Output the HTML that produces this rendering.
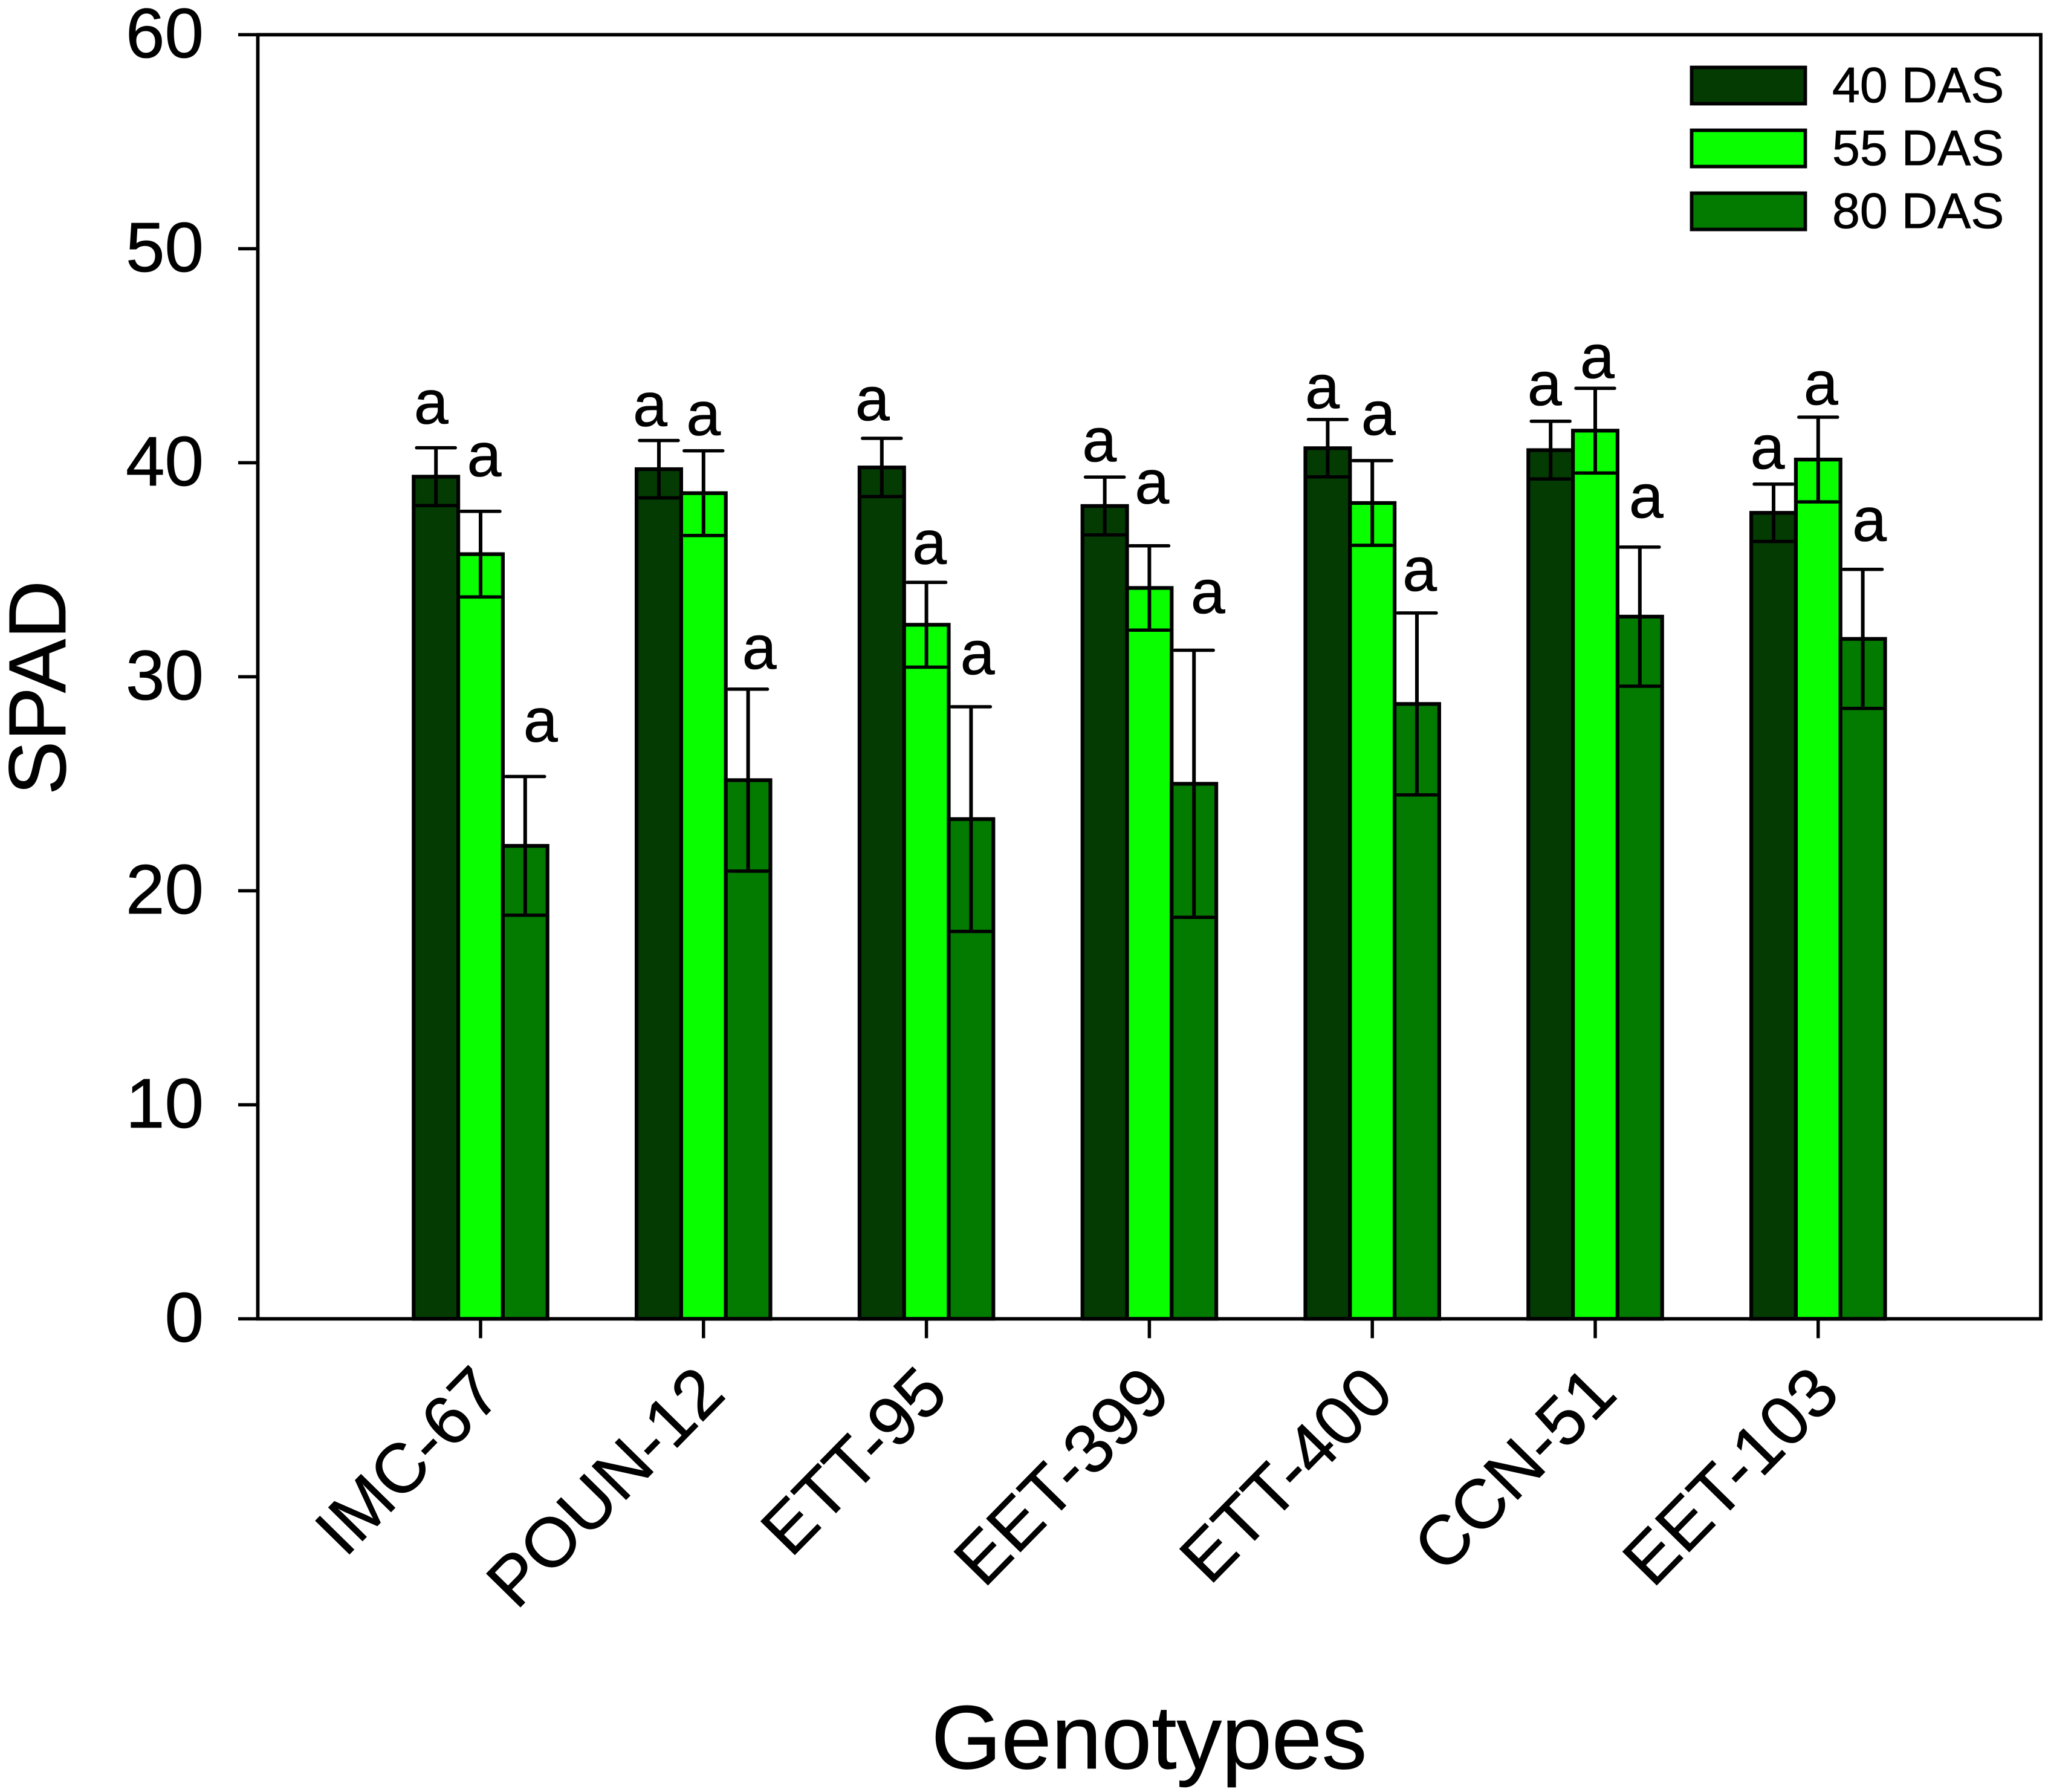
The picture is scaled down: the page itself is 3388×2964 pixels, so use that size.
<!DOCTYPE html>
<html lang="en">
<head>
<meta charset="utf-8">
<title>SPAD by genotype</title>
<style>
html,body{margin:0;padding:0;background:#fff;}
svg{display:block;}
text{font-family:"Liberation Sans",Arial,sans-serif;fill:#000;stroke:#000;stroke-width:0.8px;}
</style>
</head>
<body>
<svg id="chart" xmlns="http://www.w3.org/2000/svg" width="3388" height="2964" viewBox="0 0 3388 2964">
  <rect x="0" y="0" width="3388" height="2964" fill="#fff"/>
  <g id="bars"></g>
  <g id="errors"></g>
  <g id="letters"></g>
  <g id="axes"></g>
  <g id="legend"></g>
  <text font-size="134" text-anchor="middle" transform="translate(108,1137.5) rotate(-90)">SPAD</text>
  <text font-size="149" text-anchor="middle" x="1901" y="2925">Genotypes</text>
</svg>
<script>
const categories = ['IMC-67', 'POUN-12', 'ETT-95', 'EET-399', 'ETT-400', 'CCN-51', 'EET-103'];
const seriesNames = ['40 DAS', '55 DAS', '80 DAS'];
const values40 = [39.35, 39.7, 39.78, 37.98, 40.68, 40.59, 37.66];
const values55 = [35.73, 38.58, 32.43, 34.15, 38.12, 41.5, 40.15];
const values80 = [22.1, 25.17, 23.35, 25.0, 28.73, 32.81, 31.77];
const errors40 = [1.35, 1.34, 1.36, 1.35, 1.34, 1.35, 1.34];
const errors55 = [2.0, 1.98, 1.98, 1.97, 1.98, 1.98, 1.98];
const errors80 = [3.24, 4.25, 5.25, 6.24, 4.25, 3.25, 3.25];
const letters40 = ['a', 'a', 'a', 'a', 'a', 'a', 'a'];
const letters55 = ['a', 'a', 'a', 'a', 'a', 'a', 'a'];
const letters80 = ['a', 'a', 'a', 'a', 'a', 'a', 'a'];
const yTickValues = [0, 10, 20, 30, 40, 50, 60];

const NS = 'http://www.w3.org/2000/svg';
const seriesValues = [values40, values55, values80];
const seriesErrors = [errors40, errors55, errors80];
const seriesLetters = [letters40, letters55, letters80];
const seriesFills = ['#033b02', '#09ff00', '#037a00'];

const plotLeft = 426.5, plotRight = 3376, plotTop = 57.4, plotBottom = 2181.4;
const yMax = 60;

function yScale(v) { return plotBottom - (v / yMax) * (plotBottom - plotTop); }
function xCenter(i) { return 795 + i * 368.8; }
const barWidth = 73.8;
function barCenter(i, s) { return xCenter(i) + (s - 1) * barWidth; }

function make(tag, attrs, parent, content) {
  const n = document.createElementNS(NS, tag);
  for (const k in attrs) n.setAttribute(k, attrs[k]);
  if (content !== undefined) n.textContent = content;
  parent.appendChild(n);
  return n;
}

function drawBars() {
  const g = document.getElementById('bars');
  seriesValues.forEach(function (vals, s) {
    vals.forEach(function (v, i) {
      const r = make('rect', {
        x: barCenter(i, s) - barWidth / 2, y: yScale(v),
        width: barWidth, height: yScale(0) - yScale(v),
        fill: seriesFills[s], stroke: '#000', 'stroke-width': 6.2
      }, g);
      
      
    });
  });
}

function drawErrors() {
  const g = document.getElementById('errors');
  const capHalf = 32;
  seriesValues.forEach(function (vals, s) {
    vals.forEach(function (v, i) {
      const cx = barCenter(i, s);
      const hi = yScale(v + seriesErrors[s][i]);
      const lo = yScale(v - seriesErrors[s][i]);
      const eb = make('g', { stroke: '#000', fill: 'none' }, g);
      
      
      make('line', { x1: cx, x2: cx, y1: hi, y2: lo, 'stroke-width': 6 }, eb);
      make('line', { x1: cx - capHalf, x2: cx + capHalf, y1: hi, y2: hi, 'stroke-width': 5.5, 'stroke-linecap': 'round' }, eb);
      make('line', { x1: cx - capHalf, x2: cx + capHalf, y1: lo, y2: lo, 'stroke-width': 5.5, 'stroke-linecap': 'round' }, eb);
    });
  });
}

function drawLetters() {
  const g = document.getElementById('letters');
  // hand placement of each annotation relative to its error cap: [dx, gap above cap]
  const placement = [
    [[-8, 40], [6, 58.5], [25.5, 58]],
    [[-14.5, 24], [0, 26], [18.5, 34]],
    [[-15.5, 30], [5, 31], [10.7, 54]],
    [[-8.8, 26], [4.3, 70.5], [23, 61.5]],
    [[-8.8, 18.7], [10, 42.7], [4.6, 37]],
    [[-10, 26.8], [3.4, 17], [10.5, 49]],
    [[-10, 26], [4.5, 21], [11, 47]]
  ];
  seriesValues.forEach(function (vals, s) {
    vals.forEach(function (v, i) {
      const p = placement[i][s];
      const t = make('text', {
        x: barCenter(i, s) + p[0],
        y: yScale(v + seriesErrors[s][i]) - p[1],
        'font-size': 102, 'text-anchor': 'middle'
      }, g, seriesLetters[s][i]);
      
      
    });
  });
}

function drawAxes() {
  const g = document.getElementById('axes');
  const frame = make('rect', {
    x: plotLeft, y: plotTop, width: plotRight - plotLeft, height: plotBottom - plotTop,
    fill: 'none', stroke: '#000', 'stroke-width': 5.8
  }, g);
  
  

  yTickValues.forEach(function (v) {
    const y = yScale(v);
    const tick = make('line', { x1: 394, x2: plotLeft, y1: y, y2: y, stroke: '#000', 'stroke-width': 5.5 }, g);
    
    
    const label = make('text', { x: 337, y: y + 37.5, 'font-size': 116, 'text-anchor': 'end' }, g, String(v));
    
    
  });

  categories.forEach(function (c, i) {
    const x = xCenter(i);
    const tick = make('line', { x1: x, x2: x, y1: plotBottom, y2: plotBottom + 32, stroke: '#000', 'stroke-width': 5.5 }, g);
    
    
    const label = make('text', {
      'font-size': 115, 'text-anchor': 'end',
      transform: 'translate(' + (x + 40) + ',' + (plotBottom + 128) + ') rotate(-45.5)'
    }, g, c);
    
    
  });
}

function drawLegend() {
  const g = document.getElementById('legend');
  seriesNames.forEach(function (name, s) {
    const top = 111.5 + s * 104;
    const entry = make('g', {}, g);
    
    
    const swatch = make('rect', {
      x: 2798.5, y: top, width: 188, height: 60,
      fill: seriesFills[s], stroke: '#000', 'stroke-width': 5.8
    }, entry);
    
    
    const label = make('text', { x: 3031, y: top + 57.5, 'font-size': 82.5 }, entry, name);
    
    
  });
}

drawBars();
drawErrors();
drawLetters();
drawAxes();
drawLegend();
</script>
</body>
</html>
